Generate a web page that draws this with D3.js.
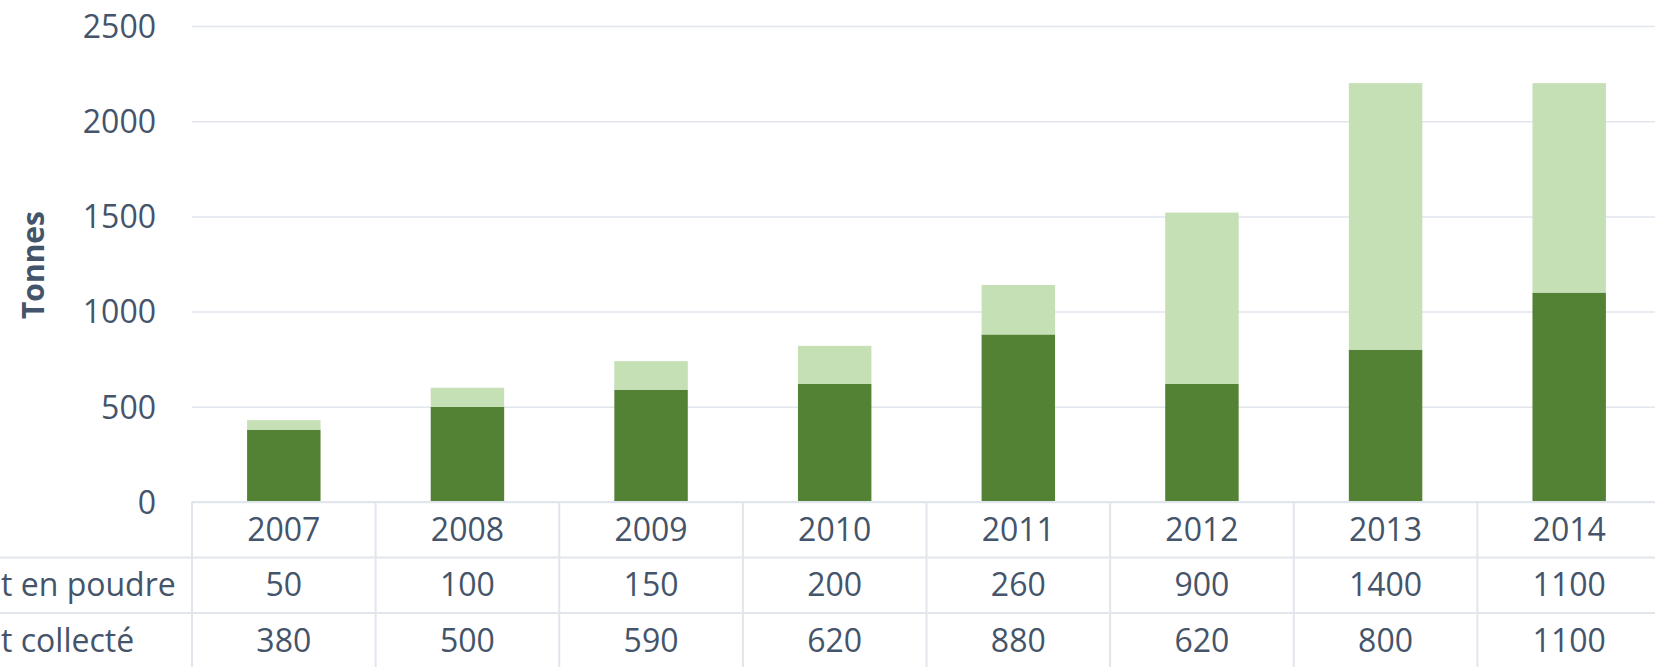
<!DOCTYPE html>
<html>
<head>
<meta charset="utf-8">
<script src="https://cdn.jsdelivr.net/npm/d3@7"></script>
<style>
    body { margin: 0; background: #fff; overflow: hidden; }
    text { font-family: "Open Sans", sans-serif; fill: #44546a; }
</style>
</head>
<body>
<div id="chart"></div>
<script>
// data
let years = ["2007", "2008", "2009", "2010", "2011", "2012", "2013", "2014"]
let laitCollecte = [380, 500, 590, 620, 880, 620, 800, 1100]
let laitPoudre = [50, 100, 150, 200, 260, 900, 1400, 1100]
let rowLabels = ["Lait en poudre", "Lait collecté"]
let yTicks = [0, 500, 1000, 1500, 2000, 2500]

let colors = {collecte: "#548235", poudre: "#c5e0b4", grid: "#e1e5ec"}

let W = 1655, H = 667
let margin = {top: 26, left: 192}
let plotRight = 1661
let plotBottom = 502
let rowH = 55.5

let svg = d3.select("#chart").append("svg")
    .attr("width", W)
    .attr("height", H)

let x = d3.scaleBand().domain(years).range([margin.left, plotRight])
let xBar = d3.scaleBand().domain(years).range([margin.left, plotRight])
    .paddingInner(0.6).paddingOuter(0.3)
let y = d3.scaleLinear().domain([0, 2500]).range([plotBottom, margin.top])

// y axis with gridlines
let yAxis = d3.axisLeft(y).tickValues(yTicks).tickFormat(d3.format("d"))
    .tickSizeInner(-(plotRight - margin.left)).tickSizeOuter(0).tickPadding(36)

let gy = svg.append("g").attr("transform", `translate(${margin.left},0)`).call(yAxis)
gy.select(".domain").remove()
gy.selectAll(".tick line").attr("stroke", colors.grid).attr("stroke-width", 1.5)
gy.selectAll(".tick text").style("font-size", "32px").attr("fill", "#44546a")
    .attr("dy", "0.35em")

// axis title
svg.append("text")
    .attr("transform", `translate(44, 265) rotate(-90)`)
    .attr("text-anchor", "middle")
    .style("font-size", "30px")
    .style("font-weight", "bold")
    .text("Tonnes")

// stacked bars
let table = years.map((d, i) => ({year: d, collecte: laitCollecte[i], poudre: laitPoudre[i]}))
let stack = d3.stack().keys(["collecte", "poudre"])(table)

svg.append("g").selectAll("g").data(stack).join("g")
    .attr("fill", d => colors[d.key])
    .selectAll("rect").data(d => d).join("rect")
    .attr("x", d => xBar(d.data.year))
    .attr("width", xBar.bandwidth())
    .attr("y", d => y(d[1]))
    .attr("height", d => y(d[0]) - y(d[1]))

// data table below the chart
let tbl = svg.append("g")
let lineStyle = sel => sel.attr("stroke", colors.grid).attr("stroke-width", 2)

tbl.append("line").call(lineStyle)
    .attr("x1", margin.left).attr("x2", W).attr("y1", plotBottom).attr("y2", plotBottom)
for (let r = 1; r <= 2; r++) {
    tbl.append("line").call(lineStyle)
        .attr("x1", 0).attr("x2", W)
        .attr("y1", plotBottom + r * rowH).attr("y2", plotBottom + r * rowH)
}
tbl.selectAll(".vline").data(years).join("line").attr("class", "vline").call(lineStyle)
    .attr("x1", d => x(d)).attr("x2", d => x(d))
    .attr("y1", plotBottom).attr("y2", H)

let rows = [years, laitPoudre, laitCollecte]
rows.forEach((row, r) => {
    tbl.selectAll(".cell" + r).data(row).join("text")
        .attr("class", "cell" + r)
        .attr("x", (d, i) => x(years[i]) + x.bandwidth() / 2)
        .attr("y", plotBottom + rowH * (r + 0.5))
        .attr("dy", "0.35em")
        .attr("text-anchor", "middle")
        .style("font-size", "32px")
        .text(d => d)
})

// row labels are left-aligned and run off the left edge, as in the original
tbl.selectAll(".rowlabel").data(rowLabels).join("text")
    .attr("class", "rowlabel")
    .attr("y", (d, i) => plotBottom + rowH * (i + 1.5))
    .attr("dy", "0.35em")
    .attr("text-anchor", "start")
    .style("font-size", "32px")
    .text(d => d)
    .attr("x", function () { return 1 - this.getSubStringLength(0, 3) })
</script>
</body>
</html>
